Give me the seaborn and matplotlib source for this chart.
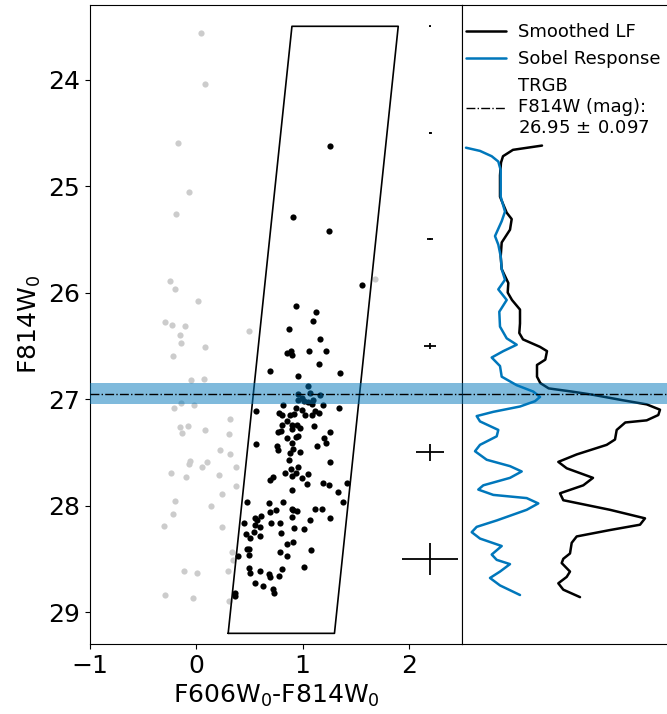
import numpy as np
import pandas as pd
import matplotlib
matplotlib.use("Agg")
import matplotlib.pyplot as plt
import seaborn as sns
from matplotlib.lines import Line2D

sns.set_style("ticks")
plt.rcParams['font.family'] = ['DejaVu Sans']
for k in ('text.color', 'axes.labelcolor', 'xtick.color', 'ytick.color', 'axes.edgecolor'):
    plt.rcParams[k] = 'black'

# ---------------- data ----------------
# points outside the selection box (gray)
gray_color = [0.04, 0.08, -0.17, -0.07, -0.19, -0.25, -0.20, 0.02, -0.29, -0.23, -0.11, -0.15, -0.14,
              0.08, -0.22, 0.50, -0.05, 0.07, -0.14, -0.02, -0.21, 0.32, -0.15, -0.08, -0.13, 0.08,
              0.31, 0.22, 0.32, -0.06, -0.07, 0.10, 0.05, 0.37, -0.24, -0.10, 0.21, 0.37, 0.24,
              -0.20, 0.14, -0.22, -0.30, 0.24, 0.34, 0.35, 0.30, -0.12, 0.01, -0.29, -0.03, 0.31, 1.68]
gray_mag = [23.56, 24.04, 24.60, 25.06, 25.26, 25.89, 25.97, 26.08, 26.28, 26.30, 26.31, 26.40, 26.47,
            26.51, 26.60, 26.36, 26.82, 26.81, 27.04, 27.06, 27.08, 27.19, 27.26, 27.25, 27.32, 27.29,
            27.33, 27.48, 27.52, 27.58, 27.61, 27.59, 27.64, 27.64, 27.69, 27.73, 27.71, 27.82, 27.89,
            27.96, 28.00, 28.08, 28.19, 28.20, 28.44, 28.51, 28.61, 28.61, 28.63, 28.84, 28.87, 28.90, 25.87]

# points inside the selection box (black)
rgb_color = [1.26, 0.91, 1.25, 1.56, 0.94, 1.13, 1.10, 0.87, 1.16, 0.85, 0.89, 0.90, 1.06, 1.22, 1.15,
             0.69, 0.96, 1.35, 1.05,
             0.96, 1.07, 1.16, 0.96, 1.01, 1.05, 1.10, 1.09, 0.99,
             0.82, 0.56, 0.94, 0.99, 1.19, 1.34, 0.78, 0.81, 0.88, 0.92, 1.02, 1.09, 1.12, 1.15,
             0.85, 0.90, 0.95, 0.81, 0.98, 0.90, 1.11, 0.77, 0.80, 1.26, 0.96, 0.94, 0.85, 1.20,
             0.90, 1.22, 0.56, 0.76, 1.14, 0.77, 0.91, 0.98, 0.88, 0.87, 1.26, 0.96, 0.89, 0.83,
             0.94, 0.90, 1.05, 0.99, 0.72, 0.69, 1.04, 1.19, 1.25, 1.42, 0.90, 1.33,
             0.48, 0.68, 0.82, 1.38, 0.69, 0.75, 0.90, 0.91, 0.95, 1.12, 1.18, 0.61, 0.55, 0.57,
             0.90, 1.26, 1.07, 0.45, 0.70, 0.79, 0.55, 0.60, 0.92, 1.01, 0.54, 0.47, 0.80, 0.51,
             0.60, 0.91, 0.85, 0.48, 0.50, 1.08, 0.79, 0.39, 0.50, 0.85, 1.01, 0.50, 0.60, 0.81,
             0.51, 0.68, 0.69, 0.78, 0.55, 0.63, 0.72, 0.73, 0.36, 0.36]
rgb_mag = [24.62, 25.29, 25.42, 25.93, 26.13, 26.18, 26.27, 26.34, 26.44, 26.57, 26.55, 26.59, 26.55, 26.55, 26.67,
           26.74, 26.78, 26.76, 26.88,
           26.95, 26.94, 26.96, 27.01, 27.02, 27.03, 27.01, 27.05, 26.99,
           27.06, 27.11, 27.08, 27.10, 27.06, 27.08, 27.13, 27.15, 27.15, 27.14, 27.15, 27.15, 27.11, 27.13,
           27.21, 27.24, 27.24, 27.24, 27.27, 27.28, 27.25, 27.31, 27.30, 27.31, 27.35, 27.36, 27.37, 27.37,
           27.41, 27.41, 27.42, 27.44, 27.44, 27.48, 27.47, 27.50, 27.51, 27.57, 27.59, 27.64, 27.66, 27.69,
           27.69, 27.72, 27.70, 27.74, 27.73, 27.76, 27.80, 27.79, 27.81, 27.79, 27.85, 27.87,
           27.97, 27.98, 27.97, 27.97, 28.06, 28.04, 28.03, 28.04, 28.05, 28.03, 28.03, 28.10, 28.12, 28.14,
           28.11, 28.12, 28.14, 28.16, 28.16, 28.16, 28.18, 28.20, 28.21, 28.22, 28.25, 28.27, 28.26, 28.30,
           28.29, 28.34, 28.36, 28.41, 28.41, 28.42, 28.44, 28.47, 28.46, 28.47, 28.58, 28.59, 28.61, 28.60,
           28.63, 28.64, 28.67, 28.66, 28.73, 28.76, 28.78, 28.82, 28.82, 28.85]

# selection box vertices (color, mag)
box_color = [0.30, 0.90, 1.90, 1.30, 0.30]
box_mag = [29.20, 23.50, 23.50, 29.20, 29.20]

# representative photometric errors
err_mag = [23.5, 24.5, 25.5, 26.5, 27.5, 28.5]
err_color = [0.01, 0.015, 0.03, 0.06, 0.13, 0.26]
err_magerr = [0.005, 0.01, 0.01, 0.03, 0.08, 0.15]
err_x = 2.2

# TRGB
trgb = 26.95
trgb_err = 0.097

# smoothed luminosity function (arbitrary units) vs magnitude
lf_mag = [24.62, 24.66, 24.72, 24.78, 24.90, 25.10, 25.25, 25.31, 25.41, 25.53, 25.66, 25.78, 25.91, 26.00,
          26.07, 26.16, 26.29, 26.38, 26.44, 26.51, 26.55, 26.63, 26.68, 26.79, 26.85, 26.90, 26.93, 26.96,
          27.01, 27.05, 27.10, 27.15, 27.20, 27.22, 27.29, 27.38, 27.43, 27.52, 27.59, 27.65, 27.74, 27.81,
          27.885, 27.95, 28.04, 28.12, 28.18, 28.23, 28.29, 28.35, 28.45, 28.50, 28.54, 28.62, 28.67, 28.73,
          28.79, 28.86]
lf_val = [80, 51, 41, 39, 38, 38, 44.7, 49.7, 48, 39.7, 38.7, 39.7, 46.3, 45.7,
          50, 58, 58, 57.3, 61, 78, 85, 83.3, 75, 75, 78.3, 86.7, 110, 131,
          160, 184.7, 198, 196.3, 184.7, 163.3, 154.7, 153, 144.7, 114.7, 96.3, 104.7, 131, 121.3,
          98, 101.3, 148, 183, 178, 148, 114.7, 109.7, 108, 101.3, 99.7, 108, 104.7, 96.3,
          101.3, 118]

# Sobel edge response (arbitrary units) vs magnitude
sobel_mag = [24.64, 24.67, 24.72, 24.77, 24.85, 25.10, 25.24, 25.33, 25.47, 25.55, 25.66, 25.78, 25.88,
             25.97, 26.07, 26.18, 26.32, 26.43, 26.49, 26.55, 26.61, 26.69, 26.79, 26.87, 26.93, 26.98,
             27.02, 27.07, 27.12, 27.16, 27.21, 27.29, 27.35, 27.43, 27.49, 27.57, 27.63, 27.68, 27.74,
             27.81, 27.85, 27.90, 27.93, 27.98, 28.04, 28.14, 28.20, 28.25, 28.31, 28.38, 28.46, 28.51,
             28.55, 28.62, 28.68, 28.75, 28.84]
sobel_val = [4, 18, 29.7, 36.3, 38.7, 38.7, 43, 39.7, 33, 36.3, 38.7, 39.7, 43,
             36.3, 44.7, 37.3, 38, 44.7, 54.7, 41.3, 29.7, 38, 39.7, 54.7, 71.3, 78,
             73, 58, 31.3, 14.7, 18, 36.3, 34.7, 18, 13, 24.7, 48, 59.7, 48,
             21.3, 16.3, 31.3, 64.7, 76.3, 64.7, 34.7, 14.7, 9.7, 18, 39.7, 29.7, 34.7,
             48, 38, 28, 38, 58]

# ---------------- figure ----------------
W, H = 667, 714
fig = plt.figure(figsize=(W / 100, H / 100), dpi=100)
bottom = 1 - 644 / H
height = (644 - 5) / H
ax1 = fig.add_axes([90 / W, bottom, (462 - 90) / W, height])
ax2 = fig.add_axes([462 / W, bottom, (W - 462) / W, height], sharey=ax1)

band_color = '#0077bb'

gray_df = pd.DataFrame({'color': gray_color, 'mag': gray_mag})
rgb_df = pd.DataFrame({'color': rgb_color, 'mag': rgb_mag})

sns.scatterplot(data=gray_df, x='color', y='mag', ax=ax1, color='#cccccc', s=20, linewidth=0, zorder=2)
sns.scatterplot(data=rgb_df, x='color', y='mag', ax=ax1, color='black', s=20, linewidth=0, zorder=3)
ax1.plot(box_color, box_mag, color='black', lw=1.2, zorder=4)
ax1.errorbar([err_x] * len(err_mag), err_mag, xerr=err_color, yerr=err_magerr,
             fmt='none', ecolor='black', elinewidth=1.3, capsize=0, zorder=4)

for ax in (ax1, ax2):
    ax.axhspan(trgb - trgb_err, trgb + trgb_err, color=band_color, alpha=0.5, lw=0, zorder=5)
ax1.axhline(trgb, color='black', ls='-.', lw=1.0, zorder=6)

lf_df = pd.DataFrame({'val': lf_val, 'mag': lf_mag})
sb_df = pd.DataFrame({'val': sobel_val, 'mag': sobel_mag})
sns.lineplot(data=lf_df, x='val', y='mag', ax=ax2, sort=False, estimator=None,
             color='black', lw=1.8, zorder=3, solid_joinstyle='round')
sns.lineplot(data=sb_df, x='val', y='mag', ax=ax2, sort=False, estimator=None,
             color=band_color, lw=1.8, zorder=3, solid_joinstyle='round')
ax2.axhline(trgb, color='black', ls='-.', lw=1.0, zorder=6)

ax1.set_xlim(-1, 2.5)
ax1.set_ylim(29.3, 23.3)
ax1.set_xticks([-1, 0, 1, 2])
ax1.set_yticks([24, 25, 26, 27, 28, 29])
ax1.tick_params(labelsize=18)
ax1.set_xlabel('F606W$_0$-F814W$_0$', fontsize=18)
ax1.set_ylabel('F814W$_0$', fontsize=18)

ax2.set_xlim(0, W - 462)
ax2.set_xlabel('')
ax2.set_ylabel('')
ax2.tick_params(left=False, bottom=False, labelleft=False, labelbottom=False)
ax2.spines['right'].set_visible(False)

handles = [Line2D([], [], color='black', lw=1.8),
           Line2D([], [], color=band_color, lw=1.8),
           Line2D([], [], color='black', ls='-.', lw=1.0)]
labels = ['Smoothed LF', 'Sobel Response', 'TRGB\nF814W (mag):\n26.95$\\,\\pm\\,$0.097']
ax2.legend(handles, labels, loc='upper left', bbox_to_anchor=(-0.068, 1.0), frameon=False,
           fontsize=13, handlelength=2.2, handletextpad=0.65, borderaxespad=0.6, labelspacing=0.5)

fig.savefig('out.png', dpi=100)
